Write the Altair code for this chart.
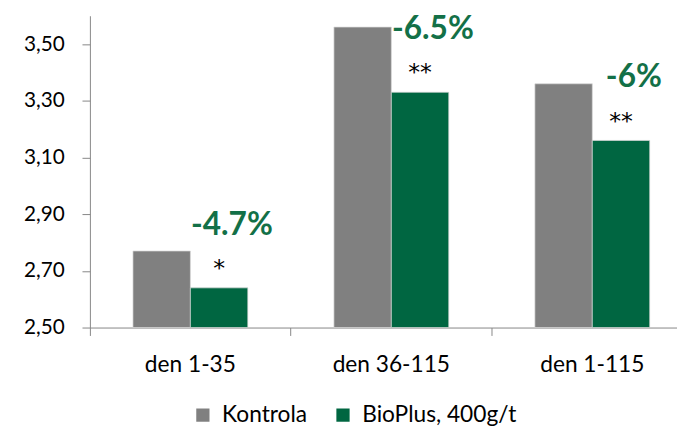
import altair as alt
import pandas as pd

categories = ["den 1-35", "den 36-115", "den 1-115"]
series = ["Kontrola", "BioPlus, 400g/t"]
kontrola = [2.77, 3.56, 3.36]
bioplus = [2.64, 3.33, 3.16]
stars = ["*", "**", "**"]
pct_labels = ["-4.7%", "-6.5%", "-6%"]
colors = ["#808080", "#006641"]

rows = []
for c, k, b in zip(categories, kontrola, bioplus):
    rows.append({"cat": c, "series": series[0], "value": k})
    rows.append({"cat": c, "series": series[1], "value": b})
df = pd.DataFrame(rows)

ann = pd.DataFrame({"cat": categories, "series": [series[1]] * 3, "value": bioplus,
                    "star": stars, "pct": pct_labels})

FONT = "Lato"

x = alt.X("cat:N", sort=categories, title=None,
          scale=alt.Scale(range=[0, 611], paddingInner=0, paddingOuter=0),
          axis=alt.Axis(bandPosition=0, labelAngle=0, tickSize=8,
                        labelPadding=19, domainColor="#868686", tickColor="#868686",
                        labelFont=FONT, labelFontSize=23, labelColor="#000000"))
xo = alt.XOffset("series:N", sort=series,
                 scale=alt.Scale(domain=series, paddingInner=0, paddingOuter=0.75))
y = alt.Y("value:Q", title=None,
          scale=alt.Scale(domain=[2.5, 3.6], zero=False, nice=False, clamp=True),
          axis=alt.Axis(values=[2.5, 2.7, 2.9, 3.1, 3.3, 3.5], grid=False, tickSize=8,
                        labelPadding=18, domainColor="#868686", tickColor="#868686",
                        labelExpr="replace(format(datum.value, '.2f'), '.', ',')",
                        labelFont=FONT, labelFontSize=21, labelColor="#000000"))

bars = alt.Chart(df).mark_bar(stroke="#d9d9d9", strokeWidth=0.7).encode(
    x=x, xOffset=xo, y=y,
    color=alt.Color("series:N", sort=series,
                    scale=alt.Scale(domain=series, range=colors),
                    legend=alt.Legend(title=None, orient="none", legendX=103, legendY=393,
                                      direction="horizontal", symbolType="square",
                                      symbolSize=180, symbolStrokeWidth=0,
                                      labelFont=FONT, labelFontSize=23, labelColor="#000000",
                                      columnPadding=24, padding=0, symbolOffset=0,
                                      labelOffset=8)),
)

star_text = alt.Chart(ann).mark_text(font="DejaVu Sans", fontSize=24, color="#000000",
                                      baseline="middle", dy=-19).encode(
    x=x, xOffset=xo, y=y, text="star:N")

pct_text = alt.Chart(ann).mark_text(font=FONT, fontSize=32, fontWeight="bold",
                                     color="#137047", baseline="middle", dx=13, dy=-64).encode(
    x=x, xOffset=xo, y=y, text="pct:N")

chart = alt.layer(bars, star_text, pct_text).properties(
    width=595, height=316,
    autosize=alt.AutoSizeParams(type="none"),
    padding={"left": 83, "top": 5, "right": 0, "bottom": 102},
).configure_view(stroke=None)

chart.save("out.html", embed_options={"renderer": "svg", "actions": False})
